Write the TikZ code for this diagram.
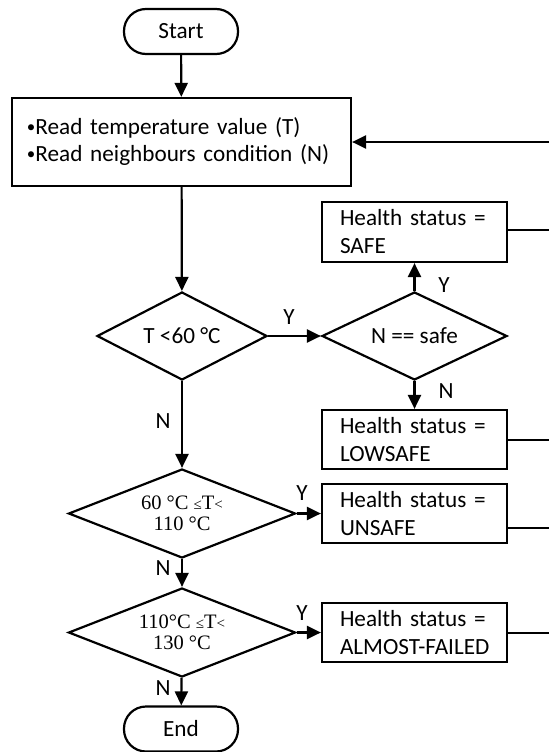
\documentclass[tikz,border=0pt]{standalone}
\usepackage{fontspec}
\setmainfont{Carlito}
\newfontfamily\tms{Liberation Serif}
\usetikzlibrary{shapes.geometric,arrows.meta}
\newcommand{\smallrel}[1]{{\fontsize{15}{15}\selectfont #1}}
\newcommand{\dotitem}{\raisebox{2pt}{\fontsize{17}{17}\selectfont •}}
\begin{document}
\begin{tikzpicture}[x=1pt,y=-1pt,
  every node/.style={font=\fontsize{23.2}{28}\selectfont},
  term/.style={draw,line width=2.2pt,rounded corners=22pt,minimum width=114pt,minimum height=45pt,inner sep=0pt},
  procbox/.style={draw,line width=2.2pt,inner sep=0pt,minimum height=59pt,text width=149pt,minimum width=185pt,align=left},
  decide/.style={draw,diamond,aspect=2,line width=2.2pt,inner sep=0pt,align=center},
  serifrule/.style={font=\tms\fontsize{20.5}{20.5}\selectfont},
  flow/.style={line width=2.2pt,-{Triangle[length=14pt,width=13pt]}},
  stub/.style={line width=1.7pt},
  lbl/.style={inner sep=0pt}
]
\useasboundingbox (0,0) rectangle (549,752);

% main column
\node[term] (start) at (181,31.5) {Start};
\node[draw,line width=2.2pt,inner sep=0pt,minimum width=339pt,minimum height=88pt,text width=309pt,align=left,
      font=\fontsize{23.2}{27}\selectfont] (read) at (181.5,142)
  {\mbox{\dotitem Read temperature value (T)}\\\mbox{\dotitem Read neighbours condition (N)}};
\node[decide,minimum width=170pt,minimum height=88pt] (d1) at (182,336) {T <60 °C};
\node[decide,serifrule,minimum width=227pt,minimum height=89pt] (d2) at (182,513.5)
  {60 °C \smallrel{≤}T\smallrel{<}\\110 °C};
\node[decide,serifrule,minimum width=227pt,minimum height=89pt] (d3) at (182,632.5)
  {110°C \smallrel{≤}T\smallrel{<}\\130 °C};
\node[term] (end) at (181,729) {End};

% right column
\node[decide,minimum width=185pt,minimum height=88pt] (ns) at (414.5,336) {N == safe};
\node[procbox,minimum height=60pt] (safe) at (414.5,232) {\mbox{Health status =}\\\mbox{SAFE}};
\node[procbox] (lowsafe) at (414.5,439.5) {\mbox{Health status =}\\\mbox{LOWSAFE}};
\node[procbox] (unsafe) at (414.5,513.5) {\mbox{Health status =}\\\mbox{UNSAFE}};
\node[procbox] (almost) at (414.5,632.5) {\mbox{Health status =}\\\mbox{ALMOST-FAILED}};

% loop-back ends at the right margin
\coordinate (back) at (549,142);
\coordinate (o1) at (549,230);
\coordinate (o2) at (549,440);
\coordinate (o3) at (549,528);
\coordinate (o4) at (549,633);

% connectors
\draw[flow] (start) -- (read);
\draw[flow] (read) -- (d1);
\draw[flow] (d1) -- (ns);
\draw[flow] (ns) -- (safe);
\draw[flow] (ns) -- (lowsafe);
\draw[flow] (d1) -- (d2);
\draw[flow] (d2) -- (unsafe);
\draw[flow] (d2) -- (d3);
\draw[flow] (d3) -- (almost);
\draw[flow] (d3) -- (end);
\draw[flow] (back) -- (read.east);

\draw[stub] (safe.east |- o1) -- (o1);
\draw[stub] (lowsafe.east |- o2) -- (o2);
\draw[stub] (unsafe.east |- o3) -- (o3);
\draw[stub] (almost.east |- o4) -- (o4);

% branch labels
\node[lbl] (y1) at (289,317) {Y};
\node[lbl] (y2) at (444,285) {Y};
\node[lbl] (n2) at (446,391) {N};
\node[lbl] (n1) at (163,421) {N};
\node[lbl] (y3) at (302,493) {Y};
\node[lbl] (n3) at (163,568) {N};
\node[lbl] (y4) at (302,613) {Y};
\node[lbl] (n4) at (163,688) {N};
\end{tikzpicture}
\end{document}
